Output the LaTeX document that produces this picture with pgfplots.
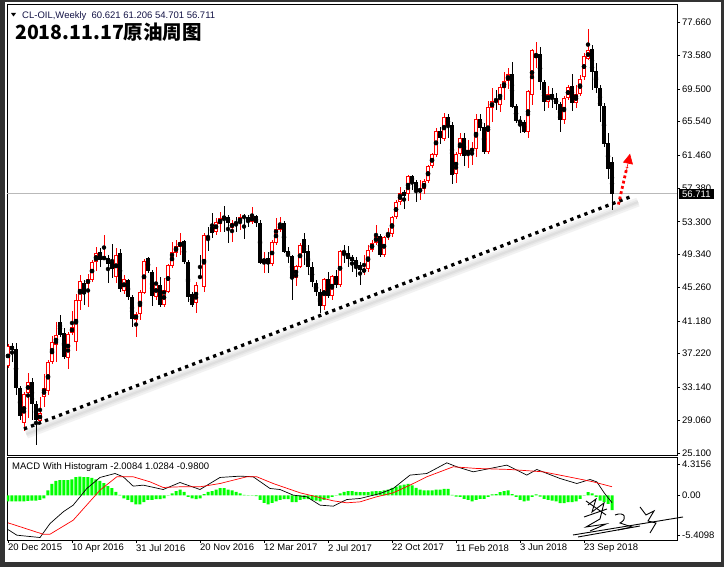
\documentclass[border=0pt]{standalone}
\usepackage{pgfplots}
\pgfplotsset{compat=1.18}
\usepackage{pgfplotstable}
\usepackage{fontspec}
\setmainfont{Liberation Sans}
\newfontfamily\cjk{Noto Sans CJK SC}
\usetikzlibrary{arrows.meta}
\definecolor{upred}{RGB}{255,0,0}
\definecolor{histgreen}{RGB}{0,255,0}
\definecolor{navy}{RGB}{20,20,70}

% bullish (red, hollow) weekly candles
\pgfplotstableread{
x o h l c
0 35.71 38.39 35.46 38.15
4 28.76 32.54 27.78 32.29
5 32.41 34.85 29.36 33.76
8 29.00 31.93 28.76 29.97
9 31.93 34.73 30.71 33.02
10 32.66 36.44 32.17 36.19
11 36.19 39.36 35.95 38.63
12 38.27 41.07 36.19 39.49
15 36.68 39.85 35.34 39.61
16 39.73 42.41 39.49 40.46
17 38.63 44.49 37.54 43.75
18 43.63 46.80 42.54 46.07
20 45.71 46.93 42.90 46.32
21 46.19 48.63 45.95 48.39
22 48.39 50.22 47.29 49.49
24 48.75 51.68 48.63 49.00
27 46.56 50.10 45.83 49.24
29 44.85 46.80 44.49 46.32
32 41.32 42.29 39.24 42.05
33 42.05 44.97 41.32 44.73
34 44.61 48.75 44.49 48.51
37 44.12 47.78 43.75 45.71
39 43.15 46.44 42.90 44.97
40 44.73 48.15 44.61 48.02
41 47.90 50.83 47.66 49.61
42 49.49 51.07 49.00 50.34
43 50.22 51.93 49.24 50.83
47 43.39 45.95 42.17 45.58
49 45.34 51.93 44.73 51.68
52 52.05 53.75 51.68 53.27
53 53.02 54.49 52.05 53.75
56 52.54 53.51 50.83 53.15
58 53.15 54.24 52.29 53.88
61 53.27 55.10 53.02 54.00
64 48.39 49.61 47.05 48.75
66 48.15 51.07 47.90 50.83
67 50.71 53.75 50.46 52.41
68 52.29 53.88 52.05 53.02
72 46.44 48.02 45.46 47.90
73 47.78 50.71 47.66 50.46
79 43.02 46.44 42.54 46.32
81 44.24 46.80 43.75 46.68
83 45.58 49.85 45.34 49.73
89 47.17 49.24 46.80 47.54
90 47.54 50.46 47.17 49.85
91 49.85 51.07 49.61 50.71
92 50.71 52.90 50.46 51.56
94 49.24 51.56 49.00 51.44
95 51.44 52.54 51.07 51.80
96 51.80 54.00 51.44 53.88
97 53.88 55.95 53.63 55.71
98 55.71 57.54 55.34 56.80
100 56.68 59.00 55.83 58.88
103 56.93 58.39 55.95 57.29
104 57.29 58.51 56.68 58.27
105 58.27 60.22 58.02 60.10
106 60.10 61.68 59.85 61.56
107 61.44 64.73 61.19 64.36
109 63.39 66.56 63.15 66.07
112 59.12 61.80 58.02 61.56
113 61.56 64.12 61.32 63.51
115 61.56 63.27 59.85 62.05
116 61.93 63.02 60.22 62.17
117 62.17 66.44 61.19 65.83
120 61.80 68.02 61.56 67.29
121 67.17 69.61 65.46 68.02
123 67.54 70.10 66.68 69.73
124 69.61 71.56 68.14 70.46
125 70.46 72.05 69.49 71.32
130 64.24 69.36 63.51 69.24
131 68.75 74.36 67.54 74.24
132 73.27 75.22 72.05 73.75
135 67.90 69.85 67.17 68.88
139 65.71 68.63 65.22 68.39
140 68.39 69.97 68.14 69.73
142 67.78 69.97 67.17 68.88
143 68.88 71.19 68.63 70.71
144 70.95 73.88 70.58 73.51
145 73.14 76.80 73.02 74.24
}\candlesup

% bearish (black, filled) weekly candles
\pgfplotstableread{
x o h l c
1 38.15 38.51 36.19 37.66
2 37.78 38.51 32.17 33.02
3 33.02 33.27 29.12 29.61
6 33.76 34.24 29.12 31.07
7 31.07 31.44 26.07 29.12
13 41.07 41.93 39.24 39.49
14 39.73 40.34 36.56 36.80
19 45.83 46.19 43.15 44.49
23 49.61 50.10 47.78 48.63
25 48.88 49.24 45.83 48.15
26 48.39 50.58 46.44 47.54
28 49.49 49.97 44.73 45.10
30 46.19 46.32 43.75 44.12
31 44.12 44.36 40.46 41.44
35 48.88 49.00 47.05 47.29
36 47.17 47.41 43.02 44.24
38 45.58 46.56 42.90 43.15
44 50.95 51.07 48.15 48.39
45 48.39 48.63 43.51 44.12
46 44.49 44.73 42.90 43.15
48 46.68 49.24 46.32 46.44
50 51.56 52.66 49.73 51.32
51 52.66 54.36 51.32 51.93
54 54.00 55.22 52.05 53.63
55 53.88 54.12 50.71 53.15
57 53.27 53.88 52.05 53.02
59 54.00 54.24 51.19 53.75
60 53.88 54.12 52.66 53.27
62 54.00 54.12 52.66 53.15
63 53.15 53.51 48.15 48.27
65 48.88 49.61 47.05 48.15
69 53.15 53.39 49.49 49.61
70 49.73 50.22 48.27 49.24
71 49.12 49.24 43.75 46.44
74 51.19 51.93 48.02 49.49
75 49.73 50.46 46.80 47.78
76 47.78 48.39 45.34 45.95
77 45.83 46.19 44.24 44.73
78 44.73 45.10 42.17 43.02
80 46.32 47.17 44.00 44.24
82 46.68 47.41 45.22 45.58
84 49.73 50.46 48.27 49.49
85 49.49 50.34 47.78 48.75
86 49.00 49.24 47.17 48.51
87 48.63 49.00 46.56 47.90
88 48.02 48.39 45.58 47.41
93 51.56 51.80 49.00 49.24
99 56.93 57.17 54.85 56.44
101 58.88 59.00 57.17 58.15
102 58.15 58.39 55.71 57.17
108 64.36 64.85 62.78 63.51
110 66.07 66.44 63.51 64.97
111 65.10 65.46 57.90 59.00
114 63.51 64.12 60.10 61.32
118 65.83 66.44 64.36 64.73
119 64.85 65.34 61.56 61.80
122 68.14 69.36 66.93 67.90
126 71.32 72.78 67.17 67.29
127 67.41 67.66 65.34 65.58
128 65.58 66.19 64.12 65.46
129 65.46 65.71 64.12 64.24
133 73.75 74.61 69.36 70.34
134 70.34 70.58 66.80 67.90
136 68.88 69.61 67.17 68.39
137 68.39 69.00 66.93 67.66
138 67.66 67.90 64.24 65.71
141 69.85 71.32 66.80 67.78
146 74.36 74.85 69.36 71.56
147 71.68 72.66 69.00 69.61
148 69.61 69.97 65.46 67.41
149 67.41 67.78 62.41 62.78
150 62.90 64.12 58.51 59.73
151 60.62 61.21 54.70 56.71
}\candlesdn

\pgfplotstableread{
x v
0 -0.8
1 -0.8
2 -0.8
3 -0.8
4 -0.8
5 -0.75
6 -0.7
7 -0.7
8 -0.6
9 -0.4
10 0.7
11 1.6
12 2.0
13 2.1
14 2.1
15 2.1
16 2.2
17 2.5
18 2.6
19 2.5
20 2.5
21 2.4
22 2.2
23 2.0
24 1.7
25 1.3
26 1.0
27 0.5
28 0.1
29 -0.4
30 -0.6
31 -0.9
32 -1.2
33 -1.2
34 -0.9
35 -0.6
36 -0.6
37 -0.5
38 -0.5
39 -0.4
40 0.05
41 0.3
42 0.6
43 0.8
44 0.5
45 -0.2
46 -0.4
47 -0.5
48 -0.4
49 0.2
50 0.5
51 0.6
52 0.8
53 1.0
54 1.0
55 0.8
56 0.7
57 0.5
58 0.3
59 0.1
60 0.05
61 0.05
62 -0.1
63 -0.6
64 -1.0
65 -1.2
66 -1.0
67 -0.8
68 -0.6
69 -0.5
70 -0.5
71 -0.9
72 -0.9
73 -0.6
74 -0.5
75 -0.5
76 -0.6
77 -0.7
78 -0.8
79 -0.6
80 -0.4
81 -0.2
82 0.05
83 0.3
84 0.5
85 0.6
86 0.6
87 0.5
88 0.45
89 0.45
90 0.45
91 0.55
92 0.6
93 0.6
94 0.7
95 0.8
96 1.05
97 1.2
98 1.4
99 1.5
100 1.6
101 1.4
102 1.05
103 0.8
104 0.7
105 0.7
106 0.7
107 0.8
108 0.8
109 0.9
110 0.9
111 0.1
112 -0.15
113 -0.2
114 -0.45
115 -0.6
116 -0.8
117 -0.6
118 -0.45
119 -0.45
120 -0.2
121 0.15
122 0.2
123 0.45
124 0.6
125 0.7
126 0.2
127 -0.2
128 -0.6
129 -0.8
130 -0.7
131 -0.2
132 0.15
133 -0.15
134 -0.45
135 -0.6
136 -0.7
137 -0.8
138 -1.05
139 -1.05
140 -0.9
141 -0.9
142 -0.8
143 -0.45
144 0.05
145 0.45
146 0.3
147 -0.2
148 -0.7
149 -0.9
150 -1.15
151 -2.0
}\hist

\tikzset{lbl/.style={font=\fontsize{9.5}{11}\selectfont}}
\pgfplotsset{
  candle/.style 2 args={only marks, mark=none,
    error bars/.cd, y dir=both, y explicit, error mark=none,
    error bar style={draw=#1, line width=#2}},
}

\begin{document}
\begin{tikzpicture}
\fill[black!80] (0pt,0pt) rectangle (724pt,567pt);
\fill[white] (5pt,5pt) rectangle (721pt,565pt);

% ---------- main price panel ----------
\begin{axis}[
  at={(7pt,112pt)}, anchor=south west,
  scale only axis, width=670pt, height=451pt,
  xmin=-0.25, xmax=167.25, ymin=24.85, ymax=79.86,
  axis line style={black, line width=0.8pt},
  xtick=\empty,
  ytick={25.1,29.06,33.14,37.22,41.18,45.26,49.34,53.3,57.38,61.46,65.54,69.5,73.58,77.66},
  yticklabels={25.100,29.060,33.140,37.220,41.180,45.260,49.340,53.300,57.380,61.460,65.540,69.500,73.580,77.660},
  ytick pos=right, yticklabel pos=right,
  tick align=outside, major tick length=3pt,
  tick style={black, line width=0.6pt},
  yticklabel style={lbl, inner xsep=2pt},
]
\addplot[gray!55, line width=0.8pt] coordinates {(-0.25,56.711) (167.25,56.711)};
% trend line shadow (soft)
\addplot[black!5, line width=9pt] coordinates {(4.6,27.4) (157.5,55.7)};
\addplot[black!9, line width=5pt] coordinates {(4.6,27.4) (157.5,55.7)};
\addplot[black!13, line width=2pt] coordinates {(4.6,27.4) (157.5,55.7)};
% wicks
\addplot[candle={black}{1pt}]
  table[x=x, y expr=(\thisrow{h}+\thisrow{l})/2, y error expr=(\thisrow{h}-\thisrow{l})/2] {\candlesdn};
\addplot[candle={upred}{1pt}]
  table[x=x, y expr=(\thisrow{h}+\thisrow{l})/2, y error expr=(\thisrow{h}-\thisrow{l})/2] {\candlesup};
% bodies
\addplot[candle={black}{3.2pt}]
  table[x=x, y expr=(\thisrow{o}+\thisrow{c})/2, y error expr={max(abs(\thisrow{c}-\thisrow{o})/2,0.07)}] {\candlesdn};
\addplot[candle={upred}{3.2pt}]
  table[x=x, y expr=(\thisrow{o}+\thisrow{c})/2, y error expr={max(abs(\thisrow{c}-\thisrow{o})/2,0.07)}] {\candlesup};
\addplot[candle={white}{1.2pt}]
  table[x=x, y expr=(\thisrow{o}+\thisrow{c})/2, y error expr={max(abs(\thisrow{c}-\thisrow{o})/2-0.13,0)}] {\candlesup};
% dotted trend line
\addplot[black, line width=3.3pt, dash pattern=on 3.3pt off 4.2pt] coordinates {(4,28.03) (155.5,56.32)};
% red dotted arrow
\addplot[upred, line width=2.8pt, dash pattern=on 2.8pt off 2.6pt] coordinates {(152.6,55.4) (154.75,59.97)};
\addplot[upred, line width=0.6pt, -{Triangle[length=10pt,width=10pt]}] coordinates {(154.6,59.5) (155.5,61.6)};
\end{axis}

% ---------- MACD panel ----------
\begin{axis}[
  at={(7pt,27pt)}, anchor=south west,
  scale only axis, width=670pt, height=83pt,
  xmin=-0.25, xmax=167.25, ymin=-6.09, ymax=5.27,
  axis line style={black, line width=0.8pt},
  xtick={0,16,32,48,64,80,96,112,128,144},
  xticklabels={20 Dec 2015,10 Apr 2016,31 Jul 2016,20 Nov 2016,12 Mar 2017,2 Jul 2017,22 Oct 2017,11 Feb 2018,3 Jun 2018,23 Sep 2018},
  xtick pos=bottom,
  xticklabel style={lbl, anchor=north west, inner xsep=0pt, inner ysep=1pt},
  ytick={-5.4098,0,4.3156},
  yticklabels={-5.4098,0.00,4.3156},
  ytick pos=right, yticklabel pos=right,
  yticklabel style={lbl, inner xsep=2pt},
  tick align=outside, major tick length=3pt,
  tick style={black, line width=0.6pt},
]
\addplot[ybar, bar width=3pt, fill=histgreen, draw=none] table[x=x, y=v] {\hist};
\addplot[black, line width=0.7pt] coordinates {
(0,-4.66) (2.2,-5.43) (4.7,-5.57) (8,-5.75) (10.5,-3.84) (13.8,-2.24) (16.3,-1.32)
(19.7,0.96) (23,2.47) (26.75,3.01) (28.8,2.56) (31.3,1.28) (33.8,1.42) (38.8,0.82)
(43,1.78) (48,0.82) (53,2.47) (58,2.65) (61.3,2.56) (65.5,0.96) (68,0.82) (71.3,0.05)
(74.7,-0.18) (78,-1.32) (81.3,-1.46) (84.7,-0.55) (88,-0.41) (93,0.27) (96.3,0.96)
(100.5,2.79) (104.7,3.01) (109.7,4.47) (112.2,3.93) (116.3,3.24) (124.7,4.16)
(129.7,2.79) (132.2,3.56) (138,2.33) (142.2,1.64) (145.5,2.19) (147.2,1.87)
(149,0.4) (150,-0.3) (151,-0.98)};
\addplot[upred, line width=0.7pt] coordinates {
(0,-3.74) (8.8,-5.30) (10.5,-5.30) (16.3,-3.38) (23,0.73) (27.2,2.56) (31.3,2.56)
(35.5,1.87) (38.8,1.10) (43,1.19) (48,1.19) (53,1.64) (59.7,2.56) (62.2,2.56)
(66.3,1.64) (73,0.37) (77.2,-0.18) (81.3,-0.73) (84.7,-1.00) (88,-0.87) (92,-0.2)
(96.3,0.37) (100.5,1.42) (104.7,2.56) (111.3,3.93) (117.2,3.70) (125.5,3.56)
(133.8,3.24) (142.2,2.33) (146.3,1.87) (151,1.2)};
\end{axis}

% ---------- texts ----------
\fill[black] (11pt,554pt) -- (16pt,554pt) -- (13.5pt,550.5pt) -- cycle;
\node[anchor=base west, inner sep=0pt, text=navy, lbl] at (22pt,548pt)
  {CL-OIL,Weekly\ \ 60.621 61.206 54.701 56.711};
\node[anchor=base west, inner sep=0pt, font=\cjk\bfseries\fontsize{19.5}{22}\selectfont] at (15pt,527pt)
  {2018.11.17原油周图};
\node[anchor=base west, inner sep=0pt, lbl] at (12pt,97.3pt)
  {MACD With Histogram -2.0084 1.0284 -0.9800};
\node[anchor=west, fill=black, text=white, inner xsep=3pt, inner ysep=2pt, lbl] at (679pt,373pt) {56.711};

% signature
\begin{scope}[line width=0.9pt, black]
\draw (573pt,32pt) -- (683pt,50pt);
\draw (578pt,30pt) -- (640pt,41pt);
\draw (588pt,62pt) -- (596pt,68pt) -- (592pt,55pt) -- (604pt,64pt) -- (600pt,48pt) -- (586pt,40pt) -- (606pt,43pt) -- (590pt,36pt);
\draw (584pt,50pt) -- (607pt,58pt);
\draw (586pt,66pt) -- (606pt,52pt);
\draw (615pt,52pt) .. controls (625pt,56pt) and (628pt,48pt) .. (620pt,44pt) -- (632pt,40pt) -- (618pt,37pt);
\draw (640pt,60pt) -- (646pt,52pt) -- (654pt,56pt) -- (648pt,46pt) -- (656pt,44pt) -- (650pt,34pt);
\end{scope}
\end{tikzpicture}
\end{document}
